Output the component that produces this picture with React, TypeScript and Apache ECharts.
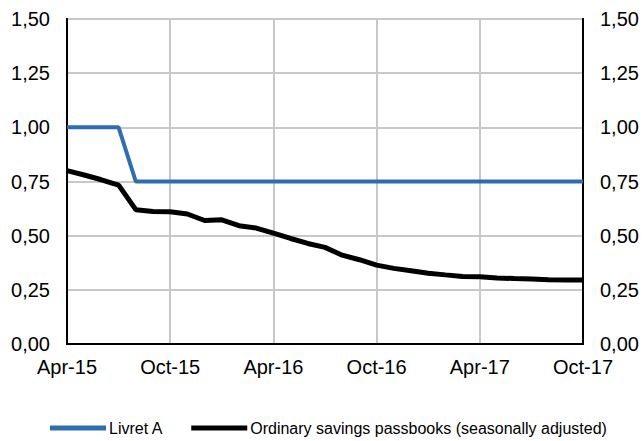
import React, { useEffect, useRef } from "react";
import * as echarts from "echarts";

const months = [
  "Apr-15", "May-15", "Jun-15", "Jul-15", "Aug-15", "Sep-15", "Oct-15", "Nov-15", "Dec-15",
  "Jan-16", "Feb-16", "Mar-16", "Apr-16", "May-16", "Jun-16", "Jul-16", "Aug-16", "Sep-16",
  "Oct-16", "Nov-16", "Dec-16", "Jan-17", "Feb-17", "Mar-17", "Apr-17", "May-17", "Jun-17",
  "Jul-17", "Aug-17", "Sep-17", "Oct-17",
];

const livretA = [
  1.0, 1.0, 1.0, 1.0, 0.75, 0.75, 0.75, 0.75, 0.75,
  0.75, 0.75, 0.75, 0.75, 0.75, 0.75, 0.75, 0.75, 0.75,
  0.75, 0.75, 0.75, 0.75, 0.75, 0.75, 0.75, 0.75, 0.75,
  0.75, 0.75, 0.75, 0.75,
];

const passbooks = [
  0.8, 0.78, 0.758, 0.733, 0.62, 0.612, 0.61, 0.6, 0.57,
  0.573, 0.546, 0.535, 0.512, 0.487, 0.464, 0.446, 0.41, 0.389,
  0.364, 0.349, 0.338, 0.327, 0.319, 0.312, 0.31, 0.305, 0.302,
  0.3, 0.296, 0.295, 0.295,
];

const seriesNames = ["Livret A", "Ordinary savings passbooks (seasonally adjusted)"];

const FONT = "'Liberation Sans', Arial, sans-serif";
const fmt = (v: number) => v.toFixed(2).replace(".", ",");

export default function App() {
  const ref = useRef<HTMLDivElement>(null);
  useEffect(() => {
    if (!ref.current) return;
    const chart = echarts.init(ref.current, undefined, { renderer: "svg" });
    const yCommon = {
      type: "value" as const,
      min: 0,
      max: 1.5,
      interval: 0.25,
      axisLine: { show: true, lineStyle: { color: "#000", width: 2 } },
      axisTick: { show: false },
      axisLabel: {
        formatter: fmt,
        color: "#000",
        fontSize: 20,
        fontFamily: FONT,
        margin: 17,
      },
    };
    chart.setOption({
      animation: false,
      backgroundColor: "#fff",
      grid: {
        left: 67,
        right: 60,
        top: 19,
        bottom: 97,
        show: true,
        borderColor: "#000",
        borderWidth: 2,
        backgroundColor: "transparent",
      },
      legend: {
        left: 50,
        top: 420,
        padding: 0,
        itemWidth: 56,
        itemHeight: 5,
        itemGap: 28,
        icon: "rect",
        textStyle: { fontSize: 16, color: "#000", fontFamily: FONT, padding: [0, 0, 0, -2] },
        data: seriesNames,
      },
      xAxis: {
        type: "category",
        data: months,
        boundaryGap: false,
        axisLine: { show: true, lineStyle: { color: "#000", width: 2 } },
        axisTick: { show: false },
        axisLabel: {
          interval: 5,
          color: "#000",
          fontSize: 20,
          fontFamily: FONT,
          margin: 13,
        },
        splitLine: { show: true, interval: 5, lineStyle: { color: "#c8c8c8", width: 2 } },
      },
      yAxis: [
        {
          ...yCommon,
          position: "left",
          splitLine: { show: true, lineStyle: { color: "#c8c8c8", width: 2 } },
        },
        {
          ...yCommon,
          position: "right",
          splitLine: { show: false },
        },
      ],
      series: [
        {
          name: seriesNames[0],
          type: "line",
          data: livretA,
          yAxisIndex: 0,
          showSymbol: false,
          symbol: "none",
          lineStyle: { color: "#2E6DB4", width: 4 },
          itemStyle: { color: "#2E6DB4" },
          z: 3,
        },
        {
          name: seriesNames[1],
          type: "line",
          data: passbooks,
          yAxisIndex: 0,
          showSymbol: false,
          symbol: "none",
          lineStyle: { color: "#000", width: 5 },
          itemStyle: { color: "#000" },
          z: 2,
        },
      ],
    });
    return () => chart.dispose();
  }, []);
  return <div ref={ref} style={{ width: 643, height: 441, position: "absolute", left: 0, top: 0 }} />;
}
